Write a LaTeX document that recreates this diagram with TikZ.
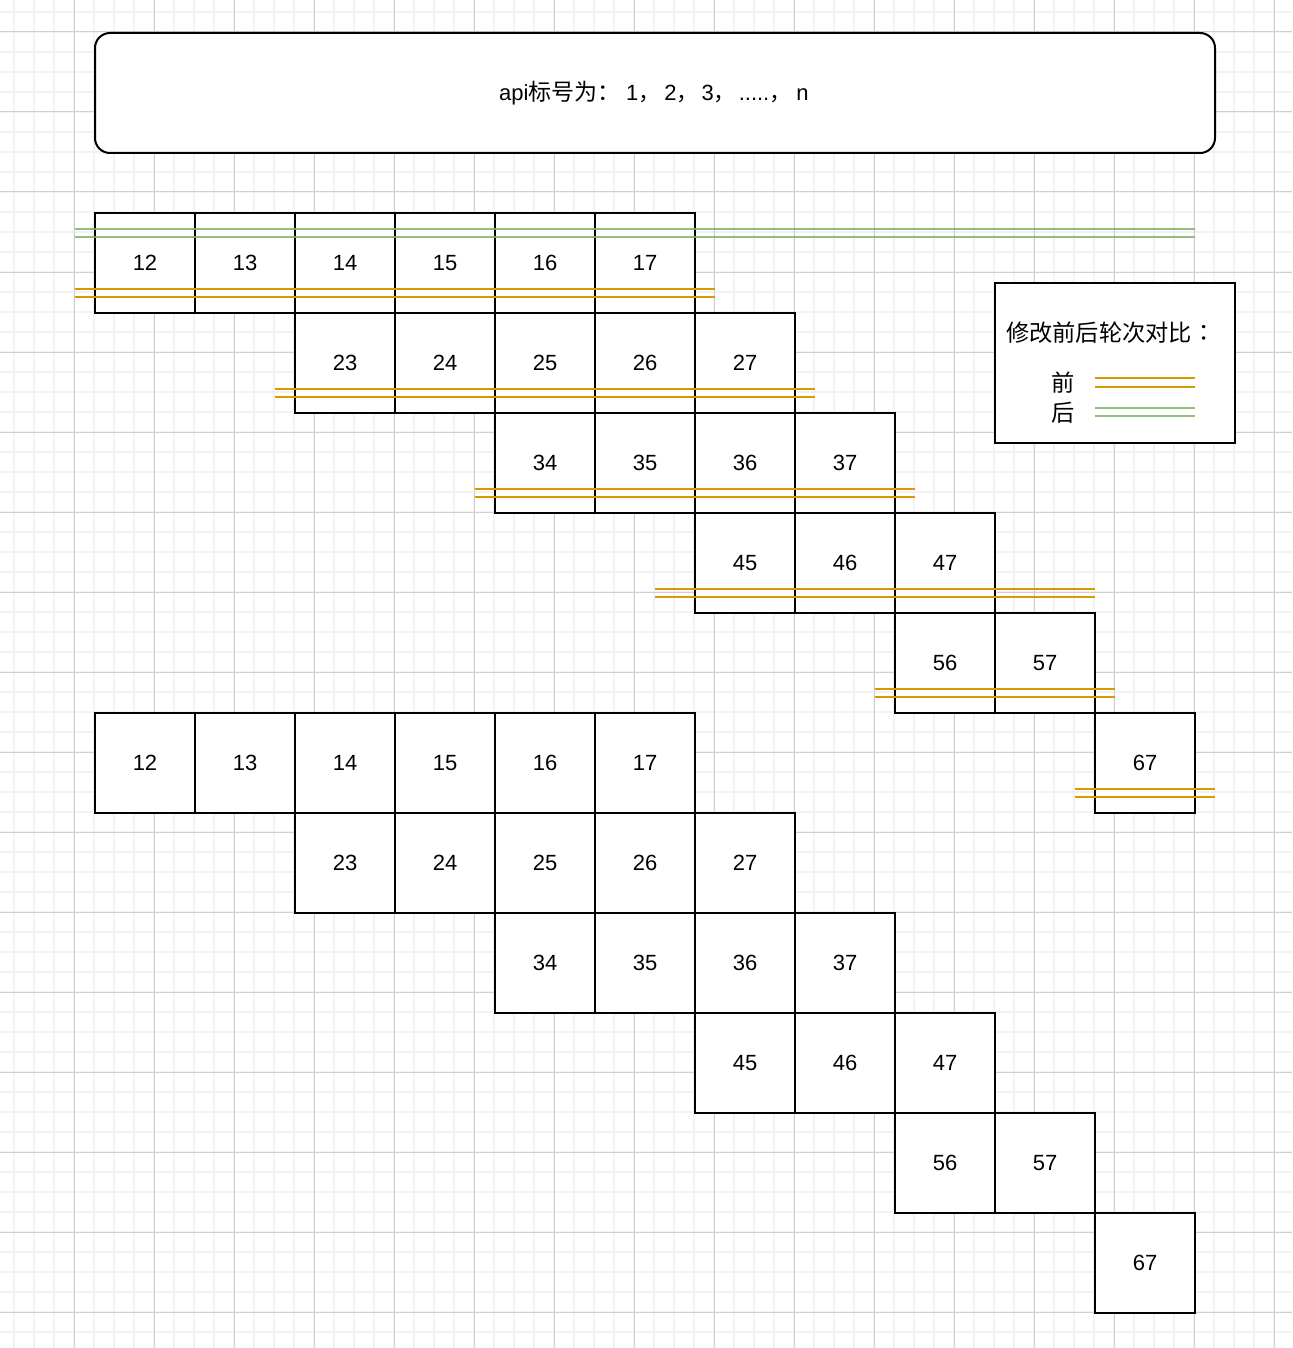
\documentclass[tikz,border=0pt]{standalone}
\usepackage{fontspec}
\setmainfont{Liberation Sans}
\newfontfamily\cjk{Noto Sans CJK SC}
\newfontfamily\cjktc{Noto Sans CJK TC}
\definecolor{orangeline}{HTML}{D79B00}
\definecolor{greenline}{HTML}{82B366}
\definecolor{gridminor}{HTML}{F2F2F2}
\definecolor{gridmajor}{HTML}{D0D0D0}
\begin{document}
\begin{tikzpicture}[x=1pt,y=-1pt,
  cellbox/.style={draw=black,line width=2pt,fill=white,minimum width=100pt,minimum height=100pt,inner sep=0pt,font=\fontsize{22pt}{26pt}\selectfont},
  before/.style={draw=orangeline,line width=2pt},
  after/.style={draw=greenline,line width=2pt,opacity=0.85},
  frame/.style={draw=black,line width=2pt,fill=white},
  cjklabel/.style={inner sep=0pt,font=\cjk\fontsize{23.25pt}{27pt}\selectfont}]
\useasboundingbox (0,0) rectangle (1292,1348);
\fill[white] (0,0) rectangle (1292,1348);
% grid
\foreach \gx in {14,34,...,1294} \draw[gridminor,line width=1.5pt] (\gx,0) -- (\gx,1348);
\foreach \gy in {12,32,...,1348} \draw[gridminor,line width=1.5pt] (0,\gy) -- (1292,\gy);
\foreach \gx in {74,154,...,1294} \draw[gridmajor,line width=1pt] (\gx,0) -- (\gx,1348);
\foreach \gy in {32,112,...,1348} \draw[gridmajor,line width=1pt] (0,\gy) -- (1292,\gy);
% title box
\node[frame,rounded corners=15pt,minimum width=1120pt,minimum height=120pt,inner sep=0pt] (title) at (655,93) {};
\node[inner sep=0pt,font=\fontsize{22pt}{26pt}\selectfont,anchor=west] (titletext) at (499,93)
  {api{\cjk\fontsize{23pt}{27pt}\selectfont 标号为：}\hspace{5.5pt}1{\cjk ，}\hspace{4pt}2{\cjk ，}\hspace{3pt}3{\cjk ，}\hspace{3pt}.....{\cjk ，}\hspace{5pt}n};
% cells, top and bottom copies
\foreach \copy/\dy in {a/0,b/500}{
  \foreach \r in {0,...,5}{
    \pgfmathtruncatemacro{\jstart}{\r+2}
    \pgfmathtruncatemacro{\rn}{\r+1}
    \foreach \j in {\jstart,...,7}{
      \pgfmathtruncatemacro{\c}{\r+\j-2}
      \node[cellbox] (\copy\rn\j) at ({145+100*\c},{263+100*\r+\dy}) {\rn\j};
    }
  }
}
% legend box
\node[frame,minimum width=240pt,minimum height=160pt,inner sep=0pt] (legend) at (1115,363) {};
\node[cjklabel,anchor=west] (legtitle) at (1006,333) {修改前后轮次对比{\cjktc ：}};
\node[cjklabel] (legbefore) at (1063,383) {前};
\node[cjklabel] (legafter) at (1063,413) {后};
\coordinate (lb1) at (1095,378); \coordinate (lb2) at (1195,378);
\coordinate (lb3) at (1095,386.5); \coordinate (lb4) at (1195,386.5);
\coordinate (la1) at (1095,407.5); \coordinate (la2) at (1195,407.5);
\coordinate (la3) at (1095,416); \coordinate (la4) at (1195,416);
\draw[before] (lb1) -- (lb2); \draw[before] (lb3) -- (lb4);
\draw[after] (la1) -- (la2); \draw[after] (la3) -- (la4);
% green "after" double line across the first row
\draw[after] (75,229) -- (1195,229);
\draw[after] (75,237) -- (1195,237);
% orange "before" double lines
\foreach \r/\xa/\xb in {0/75/715,1/275/815,2/475/915,3/655/1095,4/875/1115,5/1075/1215}{
  \draw[before] (\xa,{289+100*\r}) -- (\xb,{289+100*\r});
  \draw[before] (\xa,{297+100*\r}) -- (\xb,{297+100*\r});
}
\end{tikzpicture}
\end{document}
